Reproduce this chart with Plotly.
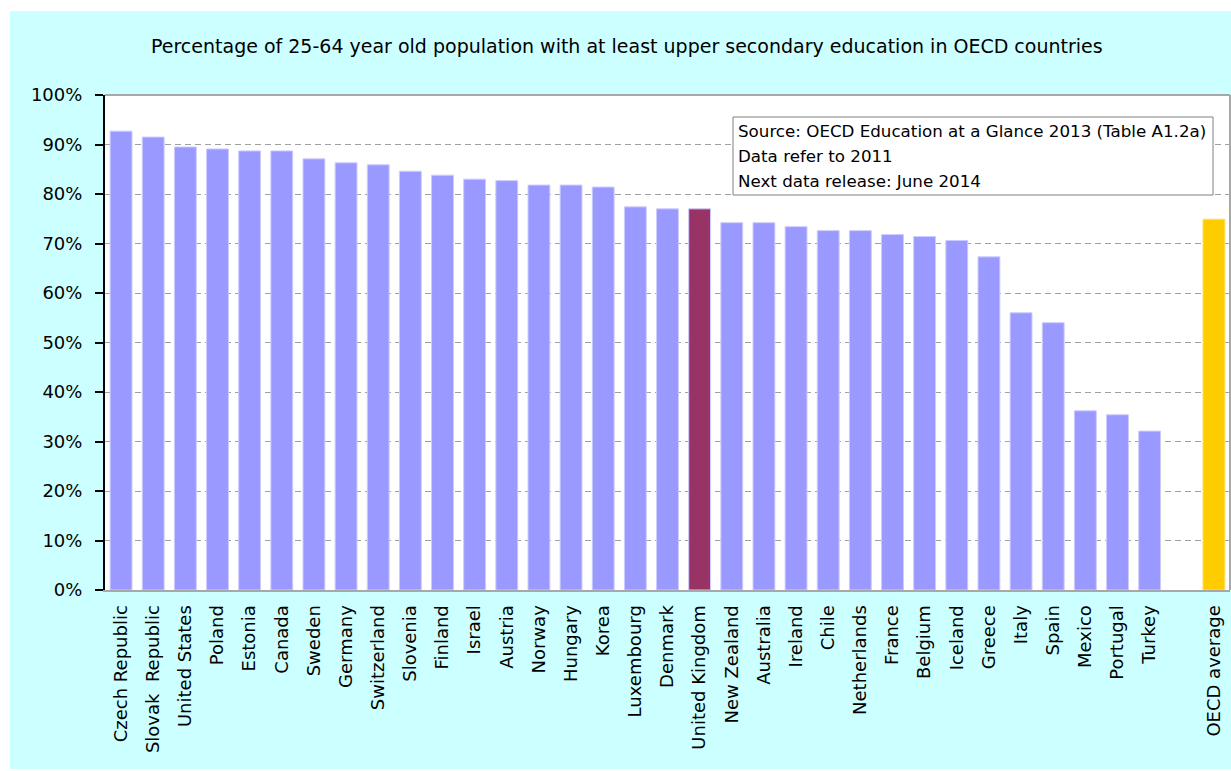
import plotly.graph_objects as go

countries = ["Czech Republic", "Slovak  Republic", "United States", "Poland", "Estonia",
             "Canada", "Sweden", "Germany", "Switzerland", "Slovenia", "Finland",
             "Israel", "Austria", "Norway", "Hungary", "Korea", "Luxembourg",
             "Denmark", "United Kingdom", "New Zealand", "Australia", "Ireland",
             "Chile", "Netherlands", "France", "Belgium", "Iceland", "Greece",
             "Italy", "Spain", "Mexico", "Portugal", "Turkey"]
values = [92.7, 91.5, 89.5, 89.1, 88.7, 88.7, 87.1, 86.3, 85.9, 84.6, 83.8,
          83.0, 82.7, 81.8, 81.8, 81.4, 77.4, 77.0, 77.0, 74.2, 74.2, 73.4,
          72.6, 72.6, 71.8, 71.4, 70.6, 67.3, 56.0, 54.0, 36.2, 35.4, 32.1]
oecd_label = "OECD average"
oecd_value = 74.9
highlight = "United Kingdom"

title_text = "Percentage of 25-64 year old population with at least upper secondary education in OECD countries"
note_lines = ["Source: OECD Education at a Glance 2013 (Table A1.2a)",
              "Data refer to 2011",
              "Next data release: June 2014"]
y_ticks = [0, 10, 20, 30, 40, 50, 60, 70, 80, 90, 100]
y_tick_text = [f"{t}%" for t in y_ticks]

LAV = "#9999FF"
UKC = "#993366"
GOLD = "#FFCC00"
FONT = "DejaVu Sans, Verdana, sans-serif"

cats = countries + [" ", oecd_label]
vals = values + [None, oecd_value]
colors = [UKC if c == highlight else LAV for c in countries] + [LAV, GOLD]
line_colors = ["#CCCCFF" for c in countries] + ["#CCCCFF", "#FFDD66"]

fig = go.Figure()
fig.add_trace(go.Bar(
    x=cats, y=vals,
    marker=dict(color=colors, line=dict(color=line_colors, width=1)),
    width=0.68,
    hoverinfo="x+y",
    showlegend=False,
))

W, H = 1231, 771
L, R, T, B = 105, 1, 95, 181
pw, ph = W - L - R, H - T - B

def px_x(px):
    return (px - L) / pw

def px_y(py):
    return (H - B - py) / ph

shapes = [
    dict(type="rect", xref="paper", yref="paper", x0=px_x(0), x1=px_x(W), y0=px_y(11), y1=px_y(0),
         fillcolor="white", line=dict(width=0), layer="above"),
    dict(type="rect", xref="paper", yref="paper", x0=px_x(0), x1=px_x(10), y0=px_y(H), y1=px_y(0),
         fillcolor="white", line=dict(width=0), layer="above"),
    dict(type="rect", xref="paper", yref="paper", x0=px_x(0), x1=px_x(W), y0=px_y(H), y1=px_y(769),
         fillcolor="white", line=dict(width=0), layer="above"),
    dict(type="line", xref="paper", yref="paper", x0=0, x1=1, y0=1, y1=1,
         line=dict(color="#A8A8A8", width=2), layer="above"),
    dict(type="line", xref="paper", yref="paper", x0=1, x1=1, y0=0, y1=1,
         line=dict(color="#A8A8A8", width=2), layer="above"),
    dict(type="rect", xref="paper", yref="paper", x0=px_x(733), x1=px_x(1213), y0=px_y(195), y1=px_y(117),
         fillcolor="white", line=dict(color="#808080", width=1), layer="above"),
]

annotations = [
    dict(text=title_text, xref="paper", yref="paper", x=px_x(627), y=px_y(46),
         xanchor="center", yanchor="middle", showarrow=False,
         font=dict(family=FONT, size=19, color="black")),
]
for i, line in enumerate(note_lines):
    annotations.append(dict(text=line, xref="paper", yref="paper", x=px_x(736), y=px_y(131 + 25 * i),
                            xanchor="left", yanchor="middle", showarrow=False,
                            font=dict(family=FONT, size=16.7, color="black")))

fig.update_layout(
    width=W, height=H,
    margin=dict(l=L, r=R, t=T, b=B, pad=0),
    paper_bgcolor="#CCFFFF",
    plot_bgcolor="white",
    bargap=0.32,
    shapes=shapes,
    annotations=annotations,
    font=dict(family=FONT, color="black"),
    xaxis=dict(
        type="category", categoryorder="array", categoryarray=cats,
        tickangle=-90, tickfont=dict(size=18, family=FONT, color="black"),
        showgrid=False, showline=True, linecolor="#A8A8A8", linewidth=2,
        ticks="", ticklabelstandoff=6, fixedrange=True,
    ),
    yaxis=dict(
        range=[0, 100], tickvals=y_ticks, ticktext=y_tick_text,
        tickfont=dict(size=18, family=FONT, color="black"),
        showgrid=True, gridcolor="#A0A0A0", gridwidth=1, griddash="6px,4px",
        showline=True, linecolor="black", linewidth=2,
        ticks="outside", ticklen=8, tickcolor="black", tickwidth=2,
        ticklabelstandoff=9,
        zeroline=False, fixedrange=True,
    ),
)

fig.write_html("out.html", config={"displayModeBar": False},
               post_script="document.body.style.margin='0';")
